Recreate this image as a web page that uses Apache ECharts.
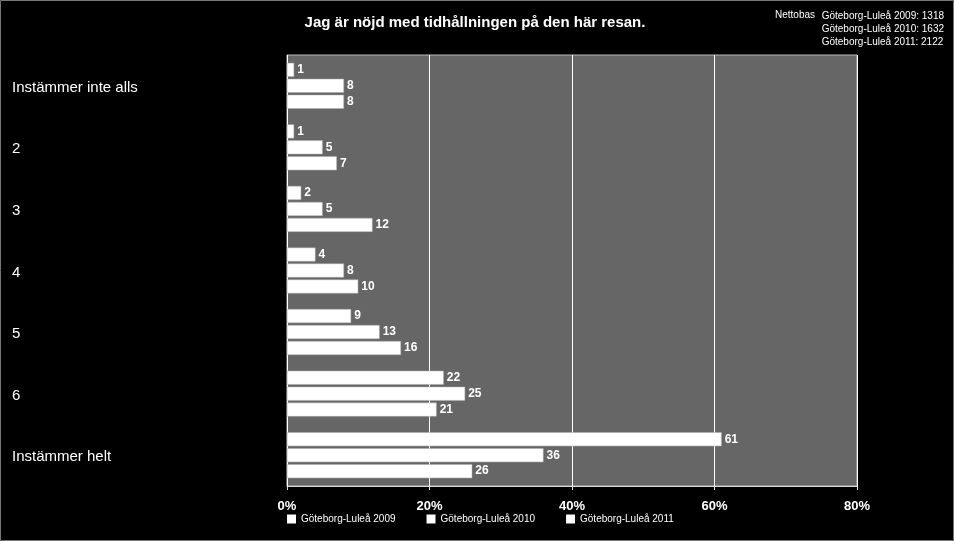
<!DOCTYPE html>
<html><head><meta charset="utf-8">
<script src="https://cdn.jsdelivr.net/npm/echarts@6/dist/echarts.min.js"></script>
<style>html,body{margin:0;padding:0;background:#000;}#c{width:954px;height:541px;}</style>
</head><body><div id="c"></div>
<script>
const categories = ['Instämmer inte alls', '2', '3', '4', '5', '6', 'Instämmer helt'];
const seriesNames = ['Göteborg-Luleå 2009', 'Göteborg-Luleå 2010', 'Göteborg-Luleå 2011'];
const v2009 = [1, 1, 2, 4, 9, 22, 61];
const v2010 = [8, 5, 5, 8, 13, 25, 36];
const v2011 = [8, 7, 12, 10, 16, 21, 26];
const xTicks = [0, 20, 40, 60, 80];
const titleText = 'Jag är nöjd med tidhållningen på den här resan.';
const nettoLabel = 'Nettobas';
const nettoLines = ['Göteborg-Luleå 2009: 1318', 'Göteborg-Luleå 2010: 1632', 'Göteborg-Luleå 2011: 2122'];

const FONT = '"Liberation Sans", Arial, sans-serif';
const chart = echarts.init(document.getElementById('c'));
const mkSeries = (name, data) => ({
  name, type: 'bar', data,
  barWidth: 14, barGap: '14%',
  itemStyle: { color: '#fff', borderColor: '#aaa', borderWidth: 0.5 },
  label: { show: true, position: 'right', distance: 3, color: '#fff', fontWeight: 'bold', fontSize: 12, fontFamily: FONT },
  emphasis: { disabled: true }
});
chart.setOption({
  backgroundColor: '#000',
  animation: false,
  title: { text: titleText, left: 470, textAlign: 'center', top: 10,
    textStyle: { color: '#fff', fontSize: 15, fontWeight: 'bold', fontFamily: FONT } },
  graphic: [
    { type: 'rect', shape: { x: 0.5, y: 0.5, width: 953, height: 540 }, style: { fill: 'none', stroke: '#777', lineWidth: 1 }, silent: true },
    { type: 'text', left: 775, top: 10, style: { text: nettoLabel, fill: '#fff', font: '10px ' + FONT } },
    { type: 'text', right: 10, top: 10, style: { text: nettoLines.join('\n'), fill: '#fff', font: '10px ' + FONT, align: 'right', lineHeight: 13 } }
  ],
  legend: { left: 287, top: 514, padding: 0, itemWidth: 9, itemHeight: 9, itemGap: 31, icon: 'rect',
    data: seriesNames,
    textStyle: { color: '#fff', fontSize: 10, fontFamily: FONT },
    itemStyle: { borderWidth: 0 } },
  grid: { left: 287, right: 97, top: 55, bottom: 55, show: true, backgroundColor: '#666', borderColor: '#bbb', borderWidth: 1 },
  xAxis: { type: 'value', min: xTicks[0], max: xTicks[xTicks.length - 1], interval: 20,
    axisLine: { show: true, lineStyle: { color: '#ddd', width: 1 } },
    axisTick: { show: true, length: 4, lineStyle: { color: '#ddd' } },
    splitLine: { show: true, lineStyle: { color: '#fff', width: 1 } },
    axisLabel: { formatter: '{value}%', color: '#fff', fontWeight: 'bold', fontSize: 13, fontFamily: FONT, margin: 14 } },
  yAxis: { type: 'category', data: categories, inverse: true,
    axisLine: { show: false }, axisTick: { show: false },
    axisLabel: { align: 'left', margin: 275,
      formatter: v => '{a|' + v + '}',
      rich: { a: { color: '#fff', fontSize: 15, fontFamily: FONT, padding: [4, 0, 0, 0] } } } },
  series: [mkSeries(seriesNames[0], v2009), mkSeries(seriesNames[1], v2010), mkSeries(seriesNames[2], v2011)]
});
</script></body></html>
